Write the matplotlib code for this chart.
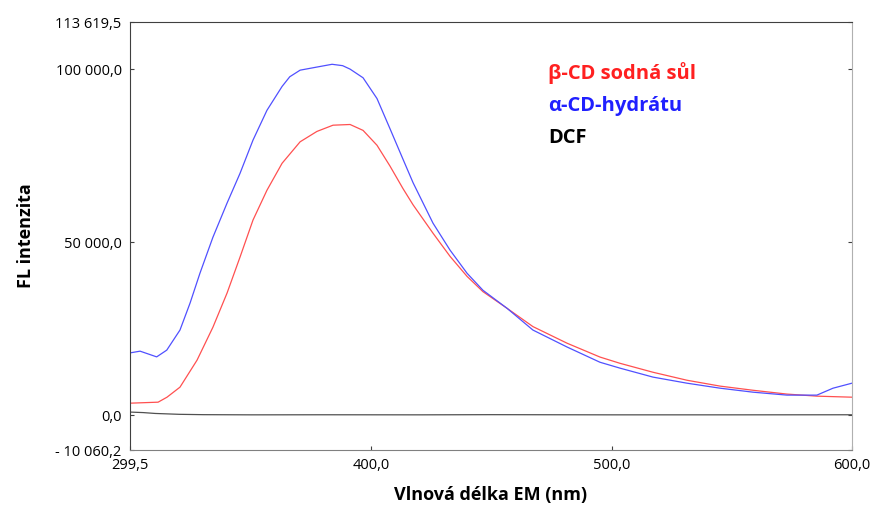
import matplotlib
matplotlib.use("Agg")
import matplotlib.pyplot as plt

# Emission spectra (x in nm, y in FL units)
beta_x = [299.5, 311.2, 314.9, 320.3, 327.4, 334.0, 339.9, 345.3, 350.7, 356.5,
          362.8, 370.3, 377.3, 384.0, 391.1, 396.5, 402.3, 407.7, 413.1, 417.3,
          425.6, 432.7, 439.8, 446.4, 456.4, 467.2, 481.4, 495.1, 503.4, 517.2,
          531.3, 545.1, 558.8, 572.9, 585.4, 600.0]
beta_y = [3470, 3760, 5200, 8100, 15900, 25400, 35300, 45700, 56400, 65000,
          72800, 79000, 82000, 83800, 84000, 82300, 78000, 72000, 65500, 60800,
          52600, 45900, 40100, 35700, 30900, 25600, 20800, 16800, 15000, 12400,
          10100, 8400, 7200, 6100, 5500, 5200]

alpha_x = [299.5, 303.7, 310.6, 314.8, 320.3, 324.5, 328.6, 334.0, 339.9, 345.3,
           350.7, 356.5, 362.8, 366.0, 370.3, 377.3, 383.6, 388.0, 391.1, 396.5,
           402.3, 407.7, 413.1, 417.3, 425.6, 432.7, 439.8, 446.4, 456.4, 467.2,
           481.4, 495.1, 503.4, 517.2, 531.3, 545.1, 558.8, 572.9, 585.4, 592.1,
           600.0]
alpha_y = [18000, 18500, 16850, 18800, 24600, 32400, 41000, 51400, 61300, 69900,
           79500, 88100, 95000, 97800, 99700, 100600, 101400, 101000, 100000, 97500,
           91500, 82800, 74000, 67200, 55500, 47700, 41000, 36100, 30900, 24600,
           19700, 15300, 13600, 11000, 9250, 7800, 6650, 5800, 5800, 7800,
           9250]

dcf_x = [299.5, 305, 310, 320, 330, 350, 380, 420, 450, 500, 550, 600]
dcf_y = [900, 750, 500, 250, 150, 100, 120, 100, 150, 100, 100, 120]

y_ticks = [-10060.2, 0, 50000, 100000, 113619.5]
y_labels = ["- 10 060,2", "0,0", "50 000,0", "100 000,0", "113 619,5"]
x_ticks = [299.5, 400, 500, 600]
x_labels = ["299,5", "400,0", "500,0", "600,0"]

series_names = ["\u03b2-CD sodná sůl", "\u03b1-CD-hydrátu", "DCF"]
series_colors = ["#ff2020", "#2020ff", "#000000"]

plt.rcParams["font.family"] = ["Open Sans", "DejaVu Sans"]

fig = plt.figure(figsize=(8.75, 5.09), dpi=100)
ax = fig.add_axes([130 / 875, 59 / 509, 722 / 875, 428 / 509])

ax.plot(beta_x, beta_y, color="#ff5050", lw=0.9)
ax.plot(alpha_x, alpha_y, color="#5050ff", lw=0.9)
ax.plot(dcf_x, dcf_y, color="#505050", lw=0.9)

ax.set_xlim(299.5, 600)
ax.set_ylim(-10060.2, 113619.5)
ax.set_xticks(x_ticks)
ax.set_xticklabels(x_labels)
ax.set_yticks(y_ticks)
ax.set_yticklabels(y_labels)
ax.tick_params(direction="in", length=3, width=0.8, colors="#404040",
               labelcolor="black", labelsize=10.5, right=True, pad=6)

ax.spines["left"].set_color("#404040")
ax.spines["top"].set_color("#404040")
ax.spines["bottom"].set_color("#808080")
ax.spines["right"].set_color("#b0b0b0")

ax.set_xlabel("Vlnová délka EM (nm)", fontsize=13, fontweight="bold", labelpad=9)
ax.set_ylabel("FL intenzita", fontsize=13, fontweight="bold", labelpad=15)

# legend drawn as coloured text
for i, (name, col) in enumerate(zip(series_names, series_colors)):
    ax.text(0.579, 0.88 - i * 0.076, name, transform=ax.transAxes, color=col,
            fontsize=14.5, fontweight="bold", va="center", ha="left")

fig.savefig("out.png", dpi=100)
